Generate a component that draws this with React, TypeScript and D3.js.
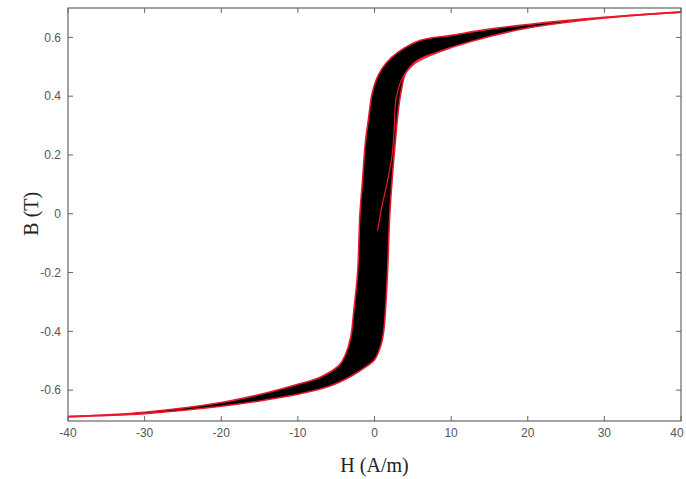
import React, { useEffect, useRef } from 'react';
import * as d3 from 'd3';

// major loop, descending branch (upper / left), H in A/m, B in T
const descH = [40, 30, 20, 15, 10, 6, 3, 1.5, 0.5, -0.3, -0.8, -1.2, -1.6, -1.9, -2.2, -2.7, -3.1, -3.8, -4.6, -7, -10, -15, -20, -30, -40];
const descB = [0.686, 0.668, 0.644, 0.628, 0.607, 0.59, 0.548, 0.512, 0.472, 0.41, 0.32, 0.24, 0.1, 0, -0.2, -0.33, -0.42, -0.48, -0.515, -0.555, -0.58, -0.615, -0.642, -0.675, -0.69];

// major loop, ascending branch (lower / right)
const ascH = [-40, -30, -20, -15, -10, -6, -3, -1.2, 0, 0.8, 1.2, 1.5, 1.7, 2.0, 2.4, 2.7, 3.1, 3.5, 4.1, 5.6, 8, 10, 15, 20, 30, 40];
const ascB = [-0.69, -0.68, -0.655, -0.637, -0.614, -0.588, -0.552, -0.522, -0.497, -0.45, -0.4, -0.3, -0.2, 0, 0.15, 0.24, 0.35, 0.42, 0.48, 0.522, 0.548, 0.566, 0.603, 0.632, 0.666, 0.686];

// initial magnetization curve
const initH = [0.4, 1.0, 1.6, 2.3, 2.6, 2.8, 3.7, 5.1, 7, 10];
const initB = [-0.058, 0.03, 0.1, 0.2, 0.3, 0.39, 0.465, 0.508, 0.535, 0.565];

const xTicks = [-40, -30, -20, -10, 0, 10, 20, 30, 40];
const yTicks = [-0.6, -0.4, -0.2, 0, 0.2, 0.4, 0.6];

const App = () => {
  const svgRef = useRef<SVGSVGElement>(null);

  useEffect(() => {
    const svg = d3.select(svgRef.current);
    svg.selectAll('*').remove();

    const width = 686;
    const height = 479;
    const margin = { top: 8, right: 5, bottom: 58, left: 68 };
    const frameColor = '#666';
    const labelColor = '#555';

    const x = d3.scaleLinear().domain([-40, 40]).range([margin.left, width - margin.right]);
    const y = d3.scaleLinear().domain([-0.705, 0.7]).range([height - margin.bottom, margin.top]);

    svg.append('defs')
      .append('clipPath')
      .attr('id', 'plot-clip')
      .append('rect')
      .attr('x', margin.left)
      .attr('y', margin.top)
      .attr('width', width - margin.left - margin.right)
      .attr('height', height - margin.top - margin.bottom);

    const line = d3.line<[number, number]>()
      .x(d => x(d[0]))
      .y(d => y(d[1]))
      .curve(d3.curveCatmullRom.alpha(0.5));

    const desc: [number, number][] = descH.map((h, i) => [h, descB[i]]);
    const asc: [number, number][] = ascH.map((h, i) => [h, ascB[i]]);
    const init: [number, number][] = initH.map((h, i) => [h, initB[i]]);

    const g = svg.append('g').attr('clip-path', 'url(#plot-clip)');

    // filled region of minor loops
    g.append('path')
      .attr('d', line(desc) + 'L' + line(asc)!.slice(1) + 'Z')
      .attr('fill', '#000')
      .attr('stroke', 'none');

    // outer loop in red
    [desc, asc].forEach(branch => {
      g.append('path')
        .attr('d', line(branch))
        .attr('fill', 'none')
        .attr('stroke', '#e8192c')
        .attr('stroke-width', 1.6);
    });

    g.append('path')
      .attr('d', line(init))
      .attr('fill', 'none')
      .attr('stroke', '#e8192c')
      .attr('stroke-width', 1.2);

    // frame
    svg.append('rect')
      .attr('x', margin.left)
      .attr('y', margin.top)
      .attr('width', width - margin.left - margin.right)
      .attr('height', height - margin.top - margin.bottom)
      .attr('fill', 'none')
      .attr('stroke', frameColor)
      .attr('stroke-width', 1.2);

    const tickLen = 5;
    const ticks = svg.append('g').attr('stroke', frameColor).attr('stroke-width', 1);
    xTicks.forEach(t => {
      ticks.append('line').attr('x1', x(t)).attr('x2', x(t)).attr('y1', y.range()[0]).attr('y2', y.range()[0] - tickLen);
      ticks.append('line').attr('x1', x(t)).attr('x2', x(t)).attr('y1', y.range()[1]).attr('y2', y.range()[1] + tickLen);
    });
    yTicks.forEach(t => {
      ticks.append('line').attr('x1', x.range()[0]).attr('x2', x.range()[0] + tickLen).attr('y1', y(t)).attr('y2', y(t));
      ticks.append('line').attr('x1', x.range()[1]).attr('x2', x.range()[1] - tickLen).attr('y1', y(t)).attr('y2', y(t));
    });

    svg.append('g')
      .selectAll('text')
      .data(xTicks)
      .join('text')
      .attr('x', d => Math.min(x(d), width - 9))
      .attr('y', y.range()[0] + 16)
      .attr('text-anchor', 'middle')
      .attr('fill', labelColor)
      .style('font-family', '"Liberation Sans", Arial, sans-serif')
      .style('font-size', '12px')
      .text(d => String(d));

    svg.append('g')
      .selectAll('text')
      .data(yTicks)
      .join('text')
      .attr('x', margin.left - 7)
      .attr('y', d => y(d))
      .attr('dy', '0.35em')
      .attr('text-anchor', 'end')
      .attr('fill', labelColor)
      .style('font-family', '"Liberation Sans", Arial, sans-serif')
      .style('font-size', '12px')
      .text(d => (d === 0 ? '0' : String(d)));

    // axis labels
    svg.append('text')
      .attr('x', x(0))
      .attr('y', 472)
      .attr('text-anchor', 'middle')
      .attr('fill', '#222')
      .style('font-family', '"Liberation Serif", "Times New Roman", serif')
      .style('font-size', '20px')
      .text('H (A/m)');

    svg.append('text')
      .attr('transform', `translate(38,${y(0)}) rotate(-90)`)
      .attr('text-anchor', 'middle')
      .attr('fill', '#222')
      .style('font-family', '"Liberation Serif", "Times New Roman", serif')
      .style('font-size', '20px')
      .text('B (T)');
  }, []);

  return (
    <svg
      ref={svgRef}
      width={686}
      height={479}
      style={{ position: 'absolute', left: 0, top: 0, background: '#fff' }}
    />
  );
};

export default App;
